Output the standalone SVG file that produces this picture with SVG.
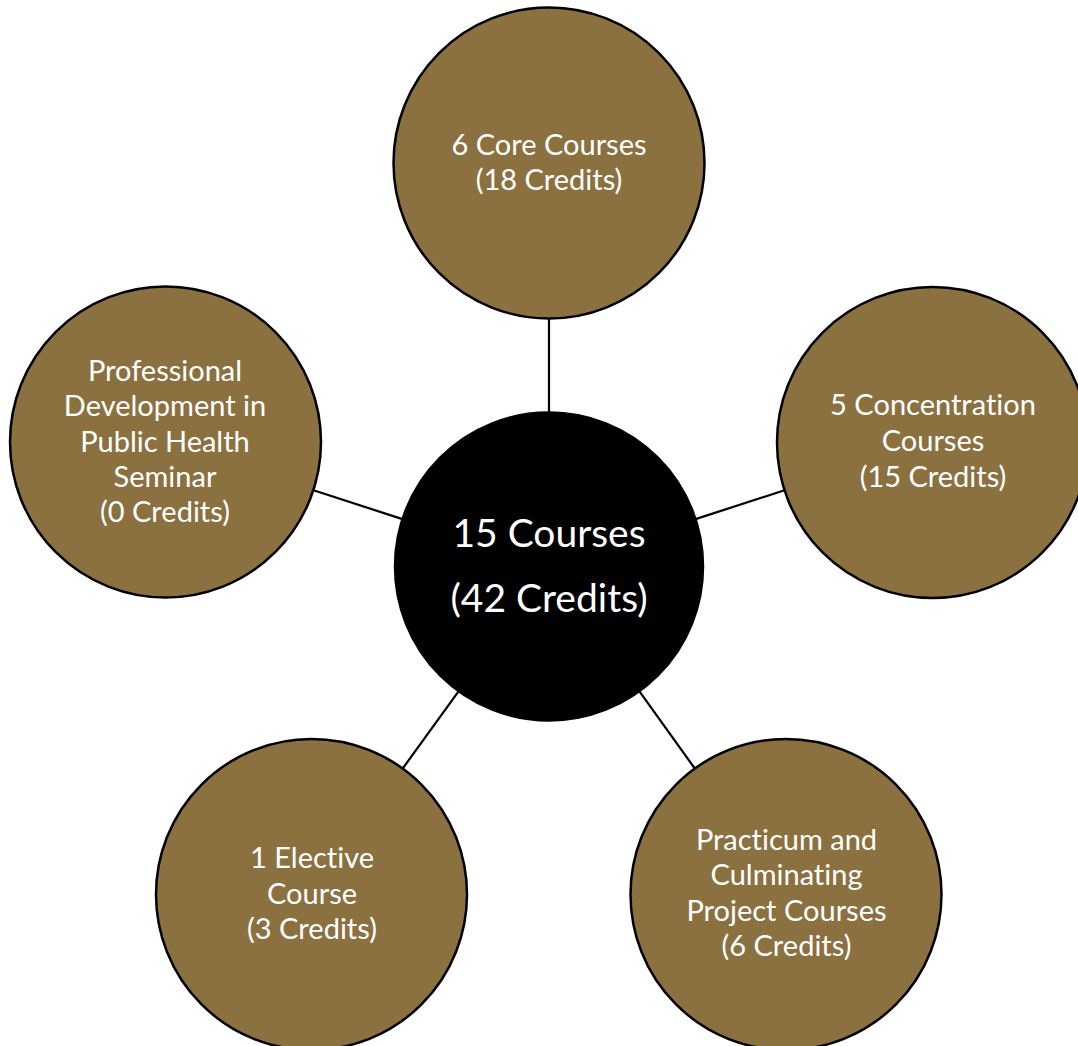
<svg xmlns="http://www.w3.org/2000/svg" width="1078" height="1046" viewBox="0 0 1078 1046">
  <style>
    .outer { fill: #8C7140; stroke: #000; stroke-width: 2.5; }
    .hub { fill: #000; stroke: #000; stroke-width: 2.5; }
    .lbl { font-family: Lato, "Open Sans", "Liberation Sans", sans-serif; font-size: 29px; fill: #fff; text-anchor: middle; font-variant-ligatures: none; }
    .hubl { font-family: Lato, "Open Sans", "Liberation Sans", sans-serif; font-size: 39px; fill: #fff; text-anchor: middle; font-variant-ligatures: none; }
    .conn { stroke: #000; stroke-width: 2.2; fill: none; }
  </style>
  <rect width="1078" height="1046" fill="#fff"/>
  <g id="connectors">
    <line class="conn" x1="549" y1="318.5" x2="549" y2="412.5"/>
    <line class="conn" x1="695.5" y1="519.1" x2="784.5" y2="490.3"/>
    <line class="conn" x1="402.5" y1="519.1" x2="313.5" y2="490.3"/>
    <line class="conn" x1="458.7" y1="691.2" x2="402.7" y2="768.5"/>
    <line class="conn" x1="639.3" y1="691.2" x2="694.8" y2="768.5"/>
  </g>
  <g id="node-core">
    <circle class="outer" cx="549" cy="163" r="155.5"/>
    <text class="lbl"><tspan x="549" y="155">6 Core Courses</tspan><tspan x="549" y="190">(18 Credits)</tspan></text>
  </g>
  <g id="node-concentration">
    <circle class="outer" cx="932.5" cy="442.5" r="155.5"/>
    <text class="lbl"><tspan x="933" y="415">5 Concentration</tspan><tspan x="933" y="451">Courses</tspan><tspan x="933" y="486.5">(15 Credits)</tspan></text>
  </g>
  <g id="node-seminar">
    <circle class="outer" cx="165.5" cy="442" r="155.5"/>
    <text class="lbl"><tspan x="165" y="380.5">Professional</tspan><tspan x="165" y="416">Development in</tspan><tspan x="165" y="451.5">Public Health</tspan><tspan x="165" y="487">Seminar</tspan><tspan x="165" y="522">(0 Credits)</tspan></text>
  </g>
  <g id="node-elective">
    <circle class="outer" cx="311.5" cy="894.5" r="155.5"/>
    <text class="lbl"><tspan x="312" y="868">1 Elective</tspan><tspan x="312" y="903.5">Course</tspan><tspan x="312" y="938.5">(3 Credits)</tspan></text>
  </g>
  <g id="node-practicum">
    <circle class="outer" cx="786" cy="894.5" r="155.5"/>
    <text class="lbl"><tspan x="786.5" y="850">Practicum and</tspan><tspan x="786.5" y="885">Culminating</tspan><tspan x="786.5" y="920.5">Project Courses</tspan><tspan x="786.5" y="955.5">(6 Credits)</tspan></text>
  </g>
  <g id="node-hub">
    <circle class="hub" cx="549" cy="566.5" r="154"/>
    <text class="hubl"><tspan x="549" y="547">15 Courses</tspan><tspan x="549" y="612">(42 Credits)</tspan></text>
  </g>
</svg>
